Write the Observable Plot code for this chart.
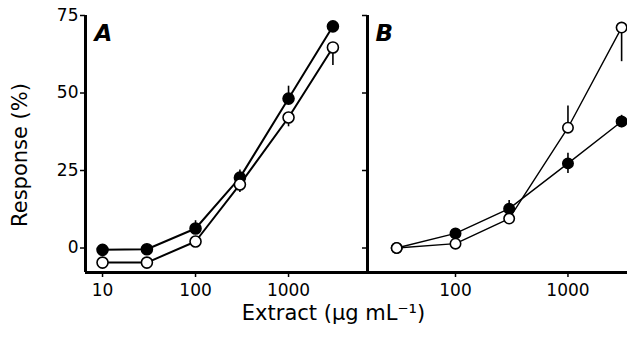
<!DOCTYPE html>
<html>
<head>
<meta charset="utf-8">
<script src="https://cdn.jsdelivr.net/npm/d3@7"></script>
<script src="https://cdn.jsdelivr.net/npm/@observablehq/plot@0.6"></script>
<style>
  html, body { margin: 0; padding: 0; background: white; }
  #wrap { position: relative; width: 627px; height: 338px; overflow: hidden; background: white; }
  #wrap svg { position: absolute; top: 0; }
</style>
</head>
<body>
<div id="wrap"></div>
<script>
// ---- Data ----
const yTicks = [0, 25, 50, 75];
const xTicksA = [10, 100, 1000];
const xTicksB = [100, 1000];

// Panel A
const doseA = [10, 30, 100, 300, 1000, 3000];
const filledA = [-0.6, -0.4, 6.3, 22.7, 48.2, 71.5];
const filledA_up = [0, 0, 2.5, 2.5, 4, 0];
const filledA_down = [0, 0, 0, 0, 0, 0];
const openA = [-4.7, -4.7, 2.1, 20.5, 42.1, 64.7];
const openA_up = [0, 0, 0, 0, 0, 0];
const openA_down = [0, 0, 0, 2.6, 3, 5.8];

// Panel B
const doseB = [30, 100, 300, 1000, 3000];
const filledB = [0, 4.7, 12.7, 27.3, 40.8];
const filledB_up = [0, 0, 2.6, 3.3, 2];
const filledB_down = [0, 0, 0, 3.3, 2];
const openB = [0, 1.4, 9.5, 38.8, 71.1];
const openB_up = [0, 0, 0, 7, 0];
const openB_down = [0, 0, 0, 0, 11];

const yDomain = [-7.9, 75];

function rows(dose, v, up, down) {
  return dose.map((d, i) => ({dose: d, v: v[i], up: up[i], down: down[i]}));
}

function seriesMarks(data, filled, lw, r) {
  const errs = data.filter(d => d.up > 0 || d.down > 0);
  return [
    Plot.line(data, {x: "dose", y: "v", stroke: "black", strokeWidth: lw}),
    Plot.ruleX(errs, {x: "dose", y1: d => d.v - d.down, y2: d => d.v + d.up, stroke: "black", strokeWidth: 1.6})
  ];
}
function dotMark(data, filled, r) {
  return Plot.dot(data, {x: "dose", y: "v", r: r,
    fill: filled ? "black" : "white", stroke: "black", strokeWidth: 1.6});
}

const style = {background: "transparent", overflow: "visible", fontFamily: "DejaVu Sans", fontSize: "17px", color: "black"};

const rFA = rows(doseA, filledA, filledA_up, filledA_down);
const rOA = rows(doseA, openA, openA_up, openA_down);
const rFB = rows(doseB, filledB, filledB_up, filledB_down);
const rOB = rows(doseB, openB, openB_up, openB_down);

const xDomA = [6.56, 7063];
const xDomB = [16.5, 3384];

const plotA = Plot.plot({
  width: 367, height: 338,
  marginLeft: 85, marginRight: 0, marginTop: 15, marginBottom: 66,
  style,
  x: {type: "log", domain: xDomA},
  y: {domain: yDomain},
  marks: [
    Plot.axisX({ticks: xTicksA, tickFormat: d => String(d), tickSize: 5, tickPadding: 6, label: null, strokeWidth: 1.5}),
    Plot.axisY({ticks: yTicks, tickFormat: d => String(d), tickSize: 5, tickPadding: 2, label: null, strokeWidth: 1.5}),
    Plot.ruleX([xDomA[0]], {y1: yDomain[0], y2: yDomain[1], stroke: "black", strokeWidth: 3}),
    Plot.ruleY([yDomain[0]], {stroke: "black", strokeWidth: 3}),
    ...seriesMarks(rFA, true, 2),
    ...seriesMarks(rOA, false, 2),
    dotMark(rFA, true, 5.5),
    dotMark(rOA, false, 5.5),
    Plot.text(["A"], {text: d => d, frameAnchor: "top-left", dx: 9, dy: 9, textAnchor: "start", lineAnchor: "top",
      fontSize: 23, fontStyle: "italic", fontWeight: "bold", fill: "black"}),
    Plot.text(["Response (%)"], {text: d => d, frameAnchor: "left", rotate: -90, dx: -65, dy: 11,
      textAnchor: "middle", lineAnchor: "middle", fontSize: 21, fill: "black"}),
    Plot.text(["Extract (μg mL⁻¹)"], {text: d => d, frameAnchor: "bottom", dx: 107, dy: 41,
      textAnchor: "middle", lineAnchor: "middle", fontSize: 21, fill: "black"})
  ]
});
plotA.style.left = "0px";

const plotB = Plot.plot({
  width: 270, height: 338,
  marginLeft: 10, marginRight: 0, marginTop: 15, marginBottom: 66,
  style,
  x: {type: "log", domain: xDomB},
  y: {domain: yDomain},
  marks: [
    Plot.axisX({ticks: xTicksB, tickFormat: d => String(d), tickSize: 5, tickPadding: 6, label: null, strokeWidth: 1.5}),
    Plot.axisY({ticks: yTicks, tickFormat: () => "", tickSize: 5, label: null, strokeWidth: 1.5}),
    Plot.ruleX([xDomB[0]], {y1: yDomain[0], y2: yDomain[1], stroke: "black", strokeWidth: 3}),
    Plot.ruleY([yDomain[0]], {stroke: "black", strokeWidth: 3}),
    ...seriesMarks(rFB, true, 1.4),
    ...seriesMarks(rOB, false, 1.4),
    dotMark(rFB, true, 5.2),
    dotMark(rOB, false, 5.2),
    Plot.text(["B"], {text: d => d, frameAnchor: "top-left", dx: 8, dy: 9, textAnchor: "start", lineAnchor: "top",
      fontSize: 23, fontStyle: "italic", fontWeight: "bold", fill: "black"})
  ]
});
plotB.style.left = "357px";

const wrap = document.getElementById("wrap");
wrap.appendChild(plotA);
wrap.appendChild(plotB);
</script>
</body>
</html>
